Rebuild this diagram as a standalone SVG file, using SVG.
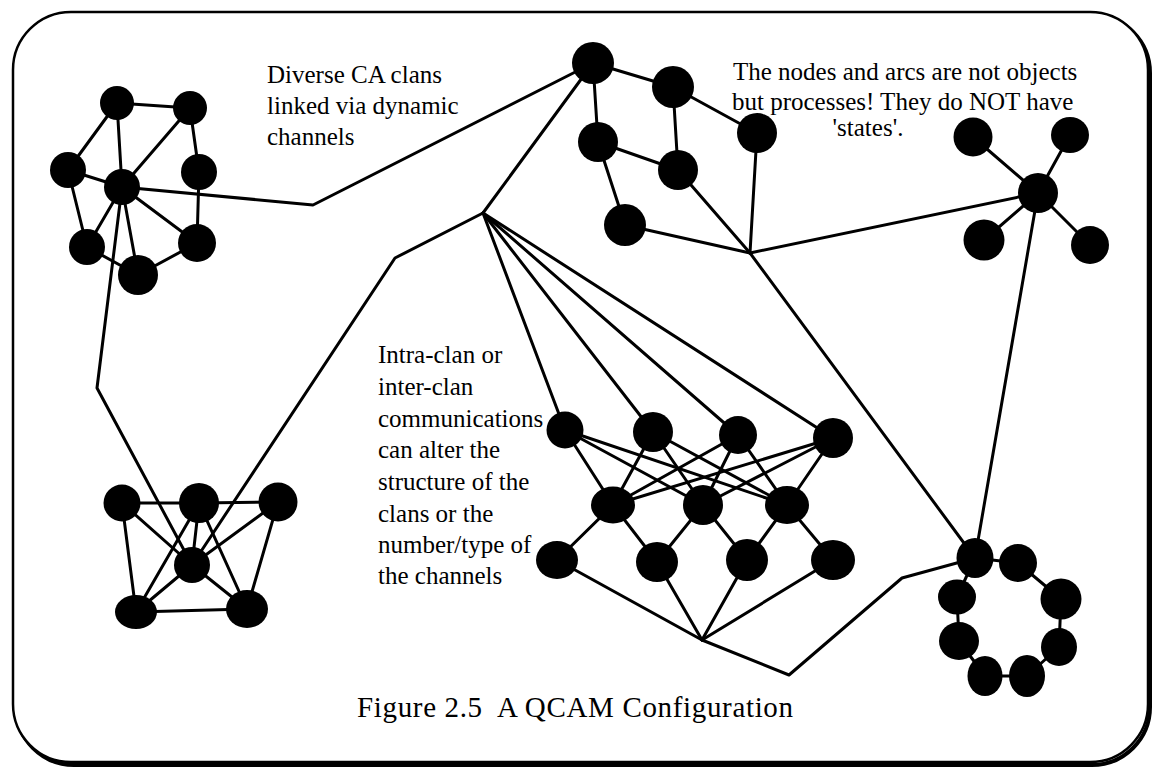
<svg xmlns="http://www.w3.org/2000/svg" width="1155" height="775" viewBox="0 0 1155 775">
  <style>
    .frame { fill: #ffffff; stroke: #000000; stroke-width: 2.5; }
    .shadow { fill: none; stroke: #000000; stroke-width: 4; }
    .c line, .c polyline { stroke: #000000; stroke-width: 3; fill: none; stroke-linejoin: round; stroke-linecap: round; }
    .n circle, .n ellipse { fill: #000000; }
    .t text { font-family: "Liberation Serif", "Times New Roman", serif; font-size: 25px; fill: #000000; }
    .title { font-family: "Liberation Serif", "Times New Roman", serif; font-size: 29px; fill: #000000; white-space: pre; }
  </style>
  <rect width="1155" height="775" fill="#ffffff"/>

  <!-- Border panel with drop shadow on the lower right -->
  <rect class="shadow" x="16" y="15" width="1134" height="750" rx="58" ry="58"/>
  <rect class="frame" x="13" y="12" width="1135" height="750" rx="58" ry="58"/>

  <!-- Connectors -->
  <g id="connectors" class="c">
    <!-- top-left clan -->
    <line x1="117" y1="103" x2="190" y2="108"/>
    <line x1="117" y1="103" x2="68" y2="170"/>
    <line x1="117" y1="103" x2="122" y2="187"/>
    <line x1="190" y1="108" x2="122" y2="187"/>
    <line x1="190" y1="108" x2="199" y2="172"/>
    <line x1="68" y1="170" x2="122" y2="187"/>
    <line x1="68" y1="170" x2="87" y2="247"/>
    <line x1="199" y1="172" x2="197" y2="243"/>
    <line x1="122" y1="187" x2="87" y2="247"/>
    <line x1="122" y1="187" x2="138" y2="275"/>
    <line x1="122" y1="187" x2="197" y2="243"/>
    <line x1="87" y1="247" x2="138" y2="275"/>
    <line x1="197" y1="243" x2="138" y2="275"/>

    <!-- channels between clans -->
    <polyline points="122,187 313,205 593,63"/>
    <polyline points="122,187 97,388 192,565"/>
    <line x1="593" y1="63" x2="483" y2="213"/>
    <polyline points="483,213 395,258 192,565"/>
    <line x1="483" y1="213" x2="565" y2="430"/>
    <line x1="483" y1="213" x2="653" y2="432"/>
    <line x1="483" y1="213" x2="738" y2="435"/>
    <line x1="483" y1="213" x2="833" y2="438"/>

    <!-- top-centre clan -->
    <line x1="593" y1="63" x2="673" y2="87"/>
    <line x1="593" y1="63" x2="598" y2="142"/>
    <line x1="673" y1="87" x2="678" y2="170"/>
    <line x1="673" y1="87" x2="757" y2="133"/>
    <line x1="598" y1="142" x2="678" y2="170"/>
    <line x1="598" y1="142" x2="625" y2="225"/>
    <line x1="678" y1="170" x2="750" y2="253"/>
    <line x1="625" y1="225" x2="750" y2="253"/>
    <line x1="757" y1="133" x2="750" y2="253"/>
    <line x1="750" y1="253" x2="1038" y2="193"/>
    <line x1="750" y1="253" x2="975" y2="558"/>

    <!-- star clan -->
    <line x1="1038" y1="193" x2="973" y2="137"/>
    <line x1="1038" y1="193" x2="1070" y2="135"/>
    <line x1="1038" y1="193" x2="984" y2="240"/>
    <line x1="1038" y1="193" x2="1090" y2="245"/>
    <line x1="1038" y1="193" x2="975" y2="558"/>

    <!-- bottom-left clan -->
    <line x1="122" y1="503" x2="199" y2="503"/>
    <line x1="199" y1="503" x2="278" y2="502"/>
    <line x1="122" y1="503" x2="136" y2="612"/>
    <line x1="122" y1="503" x2="192" y2="565"/>
    <line x1="199" y1="503" x2="136" y2="612"/>
    <line x1="199" y1="503" x2="192" y2="565"/>
    <line x1="199" y1="503" x2="247" y2="609"/>
    <line x1="278" y1="502" x2="192" y2="565"/>
    <line x1="278" y1="502" x2="247" y2="609"/>
    <line x1="192" y1="565" x2="136" y2="612"/>
    <line x1="192" y1="565" x2="247" y2="609"/>
    <line x1="136" y1="612" x2="247" y2="609"/>

    <!-- layered clan: top row to middle row -->
    <line x1="565" y1="430" x2="613" y2="505"/>
    <line x1="565" y1="430" x2="703" y2="505"/>
    <line x1="565" y1="430" x2="787" y2="505"/>
    <line x1="653" y1="432" x2="613" y2="505"/>
    <line x1="653" y1="432" x2="703" y2="505"/>
    <line x1="653" y1="432" x2="787" y2="505"/>
    <line x1="738" y1="435" x2="613" y2="505"/>
    <line x1="738" y1="435" x2="703" y2="505"/>
    <line x1="738" y1="435" x2="787" y2="505"/>
    <line x1="833" y1="438" x2="613" y2="505"/>
    <line x1="833" y1="438" x2="703" y2="505"/>
    <line x1="833" y1="438" x2="787" y2="505"/>
    <!-- middle row to bottom row -->
    <line x1="613" y1="505" x2="557" y2="560"/>
    <line x1="613" y1="505" x2="657" y2="562"/>
    <line x1="703" y1="505" x2="657" y2="562"/>
    <line x1="703" y1="505" x2="747" y2="560"/>
    <line x1="787" y1="505" x2="747" y2="560"/>
    <line x1="787" y1="505" x2="833" y2="560"/>
    <!-- bottom row to junction -->
    <line x1="557" y1="560" x2="702" y2="640"/>
    <line x1="657" y1="562" x2="702" y2="640"/>
    <line x1="747" y1="560" x2="702" y2="640"/>
    <line x1="833" y1="560" x2="702" y2="640"/>
    <polyline points="702,640 789,675 902,578 975,558"/>

    <!-- ring clan -->
    <polyline points="975,558 1018,563 1061,599 1059,647 1027,676 985,676 959,641 957,597 975,558"/>
  </g>

  <!-- Nodes -->
  <g id="clan-top-left" class="n">
    <circle cx="117" cy="103" r="17"/>
    <circle cx="190" cy="108" r="17"/>
    <circle cx="68" cy="170" r="18"/>
    <circle cx="199" cy="172" r="18"/>
    <circle cx="122" cy="187" r="18"/>
    <circle cx="87" cy="247" r="18"/>
    <circle cx="197" cy="243" r="19"/>
    <circle cx="138" cy="275" r="20"/>
  </g>
  <g id="clan-top-centre" class="n">
    <circle cx="593" cy="63" r="21"/>
    <circle cx="673" cy="87" r="21"/>
    <circle cx="598" cy="142" r="20"/>
    <circle cx="678" cy="170" r="20"/>
    <circle cx="625" cy="225" r="21"/>
    <circle cx="757" cy="133" r="20"/>
  </g>
  <g id="clan-star" class="n">
    <circle cx="1038" cy="193" r="20"/>
    <circle cx="973" cy="137" r="19.5"/>
    <ellipse cx="1070" cy="135" rx="19" ry="18"/>
    <circle cx="984" cy="240" r="20.5"/>
    <circle cx="1090" cy="245" r="19"/>
  </g>
  <g id="clan-bottom-left" class="n">
    <circle cx="122" cy="503" r="18.5"/>
    <circle cx="199" cy="503" r="20"/>
    <circle cx="278" cy="502" r="19.5"/>
    <circle cx="192" cy="565" r="18"/>
    <ellipse cx="136" cy="612" rx="21" ry="17"/>
    <ellipse cx="247" cy="609" rx="21" ry="19"/>
  </g>
  <g id="clan-layered" class="n">
    <circle cx="565" cy="430" r="18.5"/>
    <circle cx="653" cy="432" r="20"/>
    <circle cx="738" cy="435" r="19"/>
    <circle cx="833" cy="438" r="20"/>
    <ellipse cx="613" cy="505" rx="22" ry="18.5"/>
    <circle cx="703" cy="505" r="20"/>
    <ellipse cx="787" cy="505" rx="22" ry="19"/>
    <ellipse cx="557" cy="560" rx="21" ry="19"/>
    <ellipse cx="657" cy="562" rx="21" ry="20"/>
    <circle cx="747" cy="560" r="21"/>
    <ellipse cx="833" cy="560" rx="22" ry="20"/>
  </g>
  <g id="clan-ring" class="n">
    <ellipse cx="975" cy="558" rx="18.5" ry="20"/>
    <circle cx="1018" cy="563" r="19"/>
    <circle cx="1061" cy="599" r="20.5"/>
    <ellipse cx="1059" cy="647" rx="18" ry="19"/>
    <ellipse cx="1027" cy="676" rx="18" ry="21"/>
    <ellipse cx="985" cy="676" rx="17.5" ry="20"/>
    <ellipse cx="959" cy="641" rx="20" ry="19"/>
    <ellipse cx="957" cy="597" rx="19" ry="17.5"/>
  </g>

  <!-- Annotations -->
  <g id="note-clans" class="t" font-family="'Liberation Serif', 'Times New Roman', serif" font-size="25">
    <text x="267" y="83">Diverse CA clans</text>
    <text x="267" y="114">linked via dynamic</text>
    <text x="267" y="145">channels</text>
  </g>
  <g id="note-processes" class="t" font-family="'Liberation Serif', 'Times New Roman', serif" font-size="25">
    <text x="733" y="80">The nodes and arcs are not objects</text>
    <text x="732" y="110">but processes! They do NOT have</text>
    <text x="868" y="136" text-anchor="middle">'states'.</text>
  </g>
  <g id="note-communications" class="t" font-family="'Liberation Serif', 'Times New Roman', serif" font-size="25">
    <text x="378" y="363">Intra-clan or</text>
    <text x="378" y="395">inter-clan</text>
    <text x="378" y="427">communications</text>
    <text x="378" y="458">can alter the</text>
    <text x="378" y="490">structure of the</text>
    <text x="378" y="522">clans or the</text>
    <text x="378" y="553">number/type of</text>
    <text x="378" y="584">the channels</text>
  </g>
  <text id="caption" class="title" x="357" y="717" textLength="436" lengthAdjust="spacing">Figure 2.5  A QCAM Configuration</text>
</svg>
